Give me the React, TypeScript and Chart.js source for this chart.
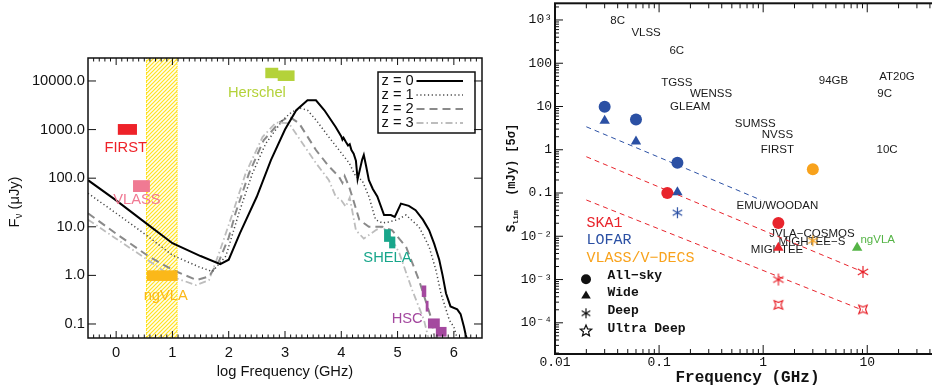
import { useEffect, useRef } from "react";
import { Chart, registerables } from "chart.js";
Chart.register(...registerables);

// ================= LEFT PANEL DATA (x = log10 frequency [GHz], y = flux density [μJy]) =================
const z0LogFreq = [-0.5, 0, 0.5, 1, 1.5, 1.85, 2.0, 2.2, 2.5, 2.75, 3.0, 3.2, 3.4, 3.55, 3.7, 3.9, 4.0, 4.02, 4.04, 4.08, 4.12, 4.15, 4.18, 4.22, 4.26, 4.29, 4.33, 4.37, 4.4, 4.44, 4.49, 4.56, 4.64, 4.76, 4.88, 4.95, 5.06, 5.2, 5.32, 5.45, 5.56, 5.65, 5.74, 5.8, 5.86, 5.94, 6.06, 6.12, 6.18, 6.21, 6.23];
const z0Flux = [91, 35, 12.6, 4.6, 2.5, 1.7, 2.1, 7.4, 42, 235, 1000, 2500, 4000, 4000, 2500, 1130, 720, 620, 680, 560, 470, 500, 380, 320, 230, 95, 150, 240, 300, 180, 91, 60, 42, 17.5, 17.5, 16, 30, 27, 22, 14, 8.5, 4.5, 2.1, 1.0, 0.43, 0.23, 0.2, 0.16, 0.087, 0.06, 0.05];

const z1LogFreq = [-0.5, 0, 0.53, 1.0, 1.47, 1.71, 1.95, 2.18, 2.42, 2.66, 2.96, 3.12, 3.28, 3.4, 3.55, 3.78, 3.96, 4.14, 4.26, 4.37, 4.49, 4.61, 4.73, 4.85, 5.0, 5.15, 5.38, 5.56, 5.68, 5.77, 5.92, 6.0, 6.06];
const z1Flux = [49, 19, 6.8, 2.6, 1.5, 1.2, 2.5, 19, 125, 520, 1580, 2300, 2750, 2500, 1580, 700, 380, 205, 107, 91, 42, 14, 12, 12.6, 14, 17.5, 10, 3.9, 1.3, 0.43, 0.12, 0.087, 0.05];

const z2LogFreq = [-0.5, 0, 0.57, 1.0, 1.43, 1.65, 1.83, 2.0, 2.12, 2.36, 2.62, 2.9, 3.07, 3.25, 3.55, 3.78, 3.96, 4.02, 4.06, 4.14, 4.2, 4.32, 4.49, 4.73, 4.9, 5.15, 5.38, 5.59, 5.66];
const z2Flux = [19, 7.2, 2.5, 1.3, 0.8, 0.95, 2.0, 6, 19, 125, 600, 1400, 1860, 1350, 380, 175, 107, 80, 110, 66, 40, 14, 10, 10, 8.5, 3.9, 0.8, 0.14, 0.05];

const z3LogFreq = [-0.5, 0, 0.53, 1.0, 1.42, 1.65, 1.83, 2.07, 2.3, 2.6, 2.84, 3.07, 3.31, 3.55, 3.78, 3.9, 4.0, 4.08, 4.15, 4.26, 4.4, 4.61, 4.73, 4.85, 5.03, 5.26, 5.47, 5.55];
const z3Flux = [14, 5.7, 2.2, 0.93, 0.63, 0.8, 2.9, 19, 125, 700, 1400, 1350, 525, 205, 91, 42, 35, 26, 40, 8.5, 5.7, 8.5, 10, 7, 2.9, 0.5, 0.12, 0.05];

const curveLabels = ["z = 0", "z = 1", "z = 2", "z = 3"];

// ngVLA frequency band (log GHz)
const bandLogFreq = [0.53, 1.09];

// survey coverage boxes: name, log-frequency range, flux range
const boxNames = ["FIRST", "VLASS", "Herschel", "Herschel", "ngVLA", "SHELA", "SHELA", "HSC", "HSC", "HSC", "HSC"];
const boxLogFreqLo = [0.03, 0.3, 2.65, 2.87, 0.545, 4.76, 4.85, 5.43, 5.5, 5.54, 5.68];
const boxLogFreqHi = [0.37, 0.6, 2.88, 3.17, 1.09, 4.88, 4.96, 5.51, 5.55, 5.75, 5.87];
const boxFluxLo = [780, 52, 11400, 10000, 0.77, 4.9, 3.6, 0.36, 0.18, 0.081, 0.055];
const boxFluxHi = [1300, 91, 18700, 16500, 1.27, 8.9, 6.3, 0.62, 0.3, 0.13, 0.087];

const surveyTextNames = ["FIRST", "VLASS", "Herschel", "ngVLA", "SHELA", "HSC"];
const surveyTextLogFreq = [0.17, 0.37, 2.5, 0.88, 4.82, 5.17];
const surveyTextFlux = [412, 35, 5750, 0.38, 2.3, 0.13];

const leftXTicks = [0, 1, 2, 3, 4, 5, 6];
const leftYTicks = [0.1, 1, 10, 100, 1000, 10000];

// ================= RIGHT PANEL DATA (x = frequency [GHz], y = S_lim [mJy]) =================
const lofarAllSkyFreq = [0.03, 0.06, 0.15];
const lofarAllSkyLim = [9.9, 5.0, 0.5];
const lofarWideFreq = [0.03, 0.06, 0.15];
const lofarWideLim = [4.7, 1.55, 0.104];
const lofarDeepFreq = [0.15];
const lofarDeepLim = [0.035];
const ska1AllSkyFreq = [0.12, 1.4];
const ska1AllSkyLim = [0.1, 0.0204];
const ska1WideFreq = [1.4];
const ska1WideLim = [0.0054];
const ska1DeepFreq = [1.4, 9.1];
const ska1DeepLim = [0.001, 0.0015];
const ska1UltraFreq = [1.4, 9.1];
const ska1UltraLim = [0.00026, 0.000204];
const vlassAllSkyFreq = [3.0];
const vlassAllSkyLim = [0.355];
const vlassDeepFreq = [3.0];
const vlassDeepLim = [0.0079];
const ngvlaWideFreq = [8.0];
const ngvlaWideLim = [0.0054];

const lofarTrendFreq = [0.02, 0.95];
const lofarTrendLim = [3.4, 0.069];
const ska1TrendFreq = [0.02, 9.1];
const ska1TrendLim = [0.69, 0.0015];
const ska1DeepTrendFreq = [0.02, 9.1];
const ska1DeepTrendLim = [0.069, 0.000195];

const catalogNames = ["8C", "VLSS", "6C", "TGSS", "WENSS", "GLEAM", "94GB", "AT20G", "9C", "SUMSS", "NVSS", "FIRST", "10C", "EMU/WOODAN", "JVLA\u2212COSMOS", "MIGHTEE\u2212S", "MIGHTEE", "ngVLA"];
const catalogFreq = [0.04, 0.075, 0.148, 0.148, 0.316, 0.199, 4.74, 19.3, 14.7, 0.838, 1.37, 1.37, 15.5, 1.37, 2.94, 2.94, 1.36, 12.6];
const catalogLim = [970, 492, 195, 35.5, 19.9, 9.7, 39.4, 48.9, 19.9, 3.94, 2.22, 1.0, 0.99, 0.0507, 0.01167, 0.00746, 0.00498, 0.00817];

const facilityNames = ["SKA1", "LOFAR", "VLASS/V\u2212DECS"];
const depthNames = ["All\u2212sky", "Wide", "Deep", "Ultra Deep"];

const rightXTicks = [0.01, 0.1, 1, 10];
const rightYTicks = [0.0001, 0.001, 0.01, 0.1, 1, 10, 100, 1000];

// ================= STYLES =================
const SANS = "'Liberation Sans', Arial, Helvetica, sans-serif";
const MONO = "'Liberation Mono', 'DejaVu Sans Mono', monospace";
const boxColor: Record<string, string> = {
  FIRST: "#ee2229",
  VLASS: "#f07a93",
  Herschel: "#b4d23a",
  ngVLA: "#fbb819",
  SHELA: "#18a68b",
  HSC: "#a4499f",
};
const BLUE = "#2b50a4";
const RED = "#e8242c";
const ORANGE = "#f8a21c";
const GREEN = "#55b446";
const catalogColor: Record<string, string> = { ngVLA: GREEN };
const facilityColor = [RED, BLUE, ORANGE];

function pts(xs: number[], ys: number[]) {
  return xs.map((x, i) => ({ x, y: ys[i] }));
}

function makeAsterisk(color: string, r: number) {
  const s = Math.ceil(2 * r + 4);
  const c = document.createElement("canvas");
  c.width = s;
  c.height = s;
  const g = c.getContext("2d")!;
  g.strokeStyle = color;
  g.lineWidth = 1.2;
  const m = s / 2;
  g.beginPath();
  for (const ang of [90, 30, 150]) {
    const t = (ang * Math.PI) / 180;
    g.moveTo(m - r * Math.cos(t), m - r * Math.sin(t));
    g.lineTo(m + r * Math.cos(t), m + r * Math.sin(t));
  }
  g.stroke();
  return c;
}

function makeStar(color: string, r: number, n: number, innerRatio: number, rot: number) {
  const s = Math.ceil(2 * r + 4);
  const c = document.createElement("canvas");
  c.width = s;
  c.height = s;
  const g = c.getContext("2d")!;
  g.strokeStyle = color;
  g.lineWidth = 1.2;
  const m = s / 2;
  g.beginPath();
  for (let i = 0; i < 2 * n; i++) {
    const rr = i % 2 === 0 ? r : r * innerRatio;
    const t = rot + (i * Math.PI) / n;
    const x = m + rr * Math.sin(t);
    const y = m - rr * Math.cos(t);
    if (i === 0) g.moveTo(x, y);
    else g.lineTo(x, y);
  }
  g.closePath();
  g.stroke();
  return c;
}

function drawFrameAndTicks(chart: any, o: any) {
  const { ctx, chartArea: a, scales } = chart;
  const sx = scales.x;
  const sy = scales.y;
  ctx.save();
  ctx.strokeStyle = "#111";
  ctx.lineWidth = 1;
  ctx.beginPath();
  const vx = (v: number, len: number) => {
    const p = sx.getPixelForValue(v);
    if (p < a.left + 0.5 || p > a.right - 0.5) return;
    ctx.moveTo(p, a.bottom);
    ctx.lineTo(p, a.bottom - len);
    ctx.moveTo(p, a.top);
    ctx.lineTo(p, a.top + len);
  };
  const hy = (v: number, len: number) => {
    const p = sy.getPixelForValue(v);
    if (p < a.top + 0.5 || p > a.bottom - 0.5) return;
    ctx.moveTo(a.left, p);
    ctx.lineTo(a.left + len, p);
    ctx.moveTo(a.right, p);
    ctx.lineTo(a.right - len, p);
  };
  o.xMajor.forEach((v: number) => vx(v, o.xMajLen));
  o.xMinor.forEach((v: number) => vx(v, o.xMinLen));
  o.yMajor.forEach((v: number) => hy(v, o.yMajLen));
  o.yMinor.forEach((v: number) => hy(v, o.yMinLen));
  ctx.stroke();
  ctx.lineWidth = o.frameWidth;
  ctx.strokeRect(a.left, a.top, a.right - a.left, a.bottom - a.top);
  ctx.restore();
}

function drawRotated(ctx: CanvasRenderingContext2D, cx: number, cy: number, parts: { text: string; font: string; dy: number }[], color: string) {
  ctx.save();
  ctx.translate(cx, cy);
  ctx.rotate(-Math.PI / 2);
  ctx.fillStyle = color;
  ctx.textBaseline = "middle";
  ctx.textAlign = "left";
  let total = 0;
  for (const p of parts) {
    ctx.font = p.font;
    total += ctx.measureText(p.text).width;
  }
  let x = -total / 2;
  for (const p of parts) {
    ctx.font = p.font;
    ctx.fillText(p.text, x, p.dy);
    x += ctx.measureText(p.text).width;
  }
  ctx.restore();
}

function logMinor(lo: number, hi: number) {
  const out: number[] = [];
  for (let e = Math.floor(Math.log10(lo)); e <= Math.ceil(Math.log10(hi)); e++) {
    for (let k = 2; k <= 9; k++) {
      const v = k * Math.pow(10, e);
      if (v > lo && v < hi) out.push(v);
    }
  }
  return out;
}

function supLabel(v: number) {
  const e = Math.round(Math.log10(v));
  const map: Record<string, string> = { "3": "10\u00B3", "2": "100", "1": "10", "0": "1", "-1": "0.1", "-2": "10\u207B\u00B2", "-3": "10\u207B\u00B3", "-4": "10\u207B\u2074" };
  return map[String(e)] ?? String(v);
}

export default function App() {
  const leftRef = useRef<HTMLCanvasElement>(null);
  const rightRef = useRef<HTMLCanvasElement>(null);

  useEffect(() => {
    const lc = leftRef.current!;
    const rc = rightRef.current!;

    // hatch pattern for the ngVLA band
    const pc = document.createElement("canvas");
    pc.width = 4;
    pc.height = 4;
    const pg = pc.getContext("2d")!;
    pg.fillStyle = "#fffdf0";
    pg.fillRect(0, 0, 4, 4);
    pg.strokeStyle = "#ffe21e";
    pg.lineWidth = 1.15;
    pg.beginPath();
    pg.moveTo(0, 4);
    pg.lineTo(4, 0);
    pg.moveTo(-1, 1);
    pg.lineTo(1, -1);
    pg.moveTo(3, 5);
    pg.lineTo(5, 3);
    pg.stroke();
    const hatch = lc.getContext("2d")!.createPattern(pc, "repeat");

    const xMinorLeft: number[] = [];
    for (let i = -5; i <= 65; i++) if (i % 10 !== 0) xMinorLeft.push(i / 10);

    const leftPlugin = {
      id: "leftDecor",
      beforeDatasetsDraw(chart: any) {
        const { ctx, chartArea: a, scales } = chart;
        const x0 = scales.x.getPixelForValue(bandLogFreq[0]);
        const x1 = scales.x.getPixelForValue(bandLogFreq[1]);
        ctx.save();
        ctx.fillStyle = hatch;
        ctx.fillRect(x0, a.top, x1 - x0, a.bottom - a.top);
        ctx.strokeStyle = "#ffe21e";
        ctx.lineWidth = 1;
        ctx.setLineDash([1, 1]);
        ctx.beginPath();
        ctx.moveTo(x0 + 0.5, a.top);
        ctx.lineTo(x0 + 0.5, a.bottom);
        ctx.moveTo(x1 - 0.5, a.top);
        ctx.lineTo(x1 - 0.5, a.bottom);
        ctx.stroke();
        ctx.restore();
      },
      afterDatasetsDraw(chart: any) {
        const { ctx, chartArea: a, scales } = chart;
        const sx = scales.x;
        const sy = scales.y;
        ctx.save();
        // survey boxes
        boxNames.forEach((n, i) => {
          const x0 = sx.getPixelForValue(boxLogFreqLo[i]);
          const x1 = sx.getPixelForValue(boxLogFreqHi[i]);
          const y0 = sy.getPixelForValue(boxFluxHi[i]);
          const y1 = sy.getPixelForValue(boxFluxLo[i]);
          ctx.fillStyle = boxColor[n];
          ctx.fillRect(x0, y0, x1 - x0, y1 - y0);
        });
        // survey names
        ctx.font = `14.7px ${SANS}`;
        ctx.textAlign = "center";
        ctx.textBaseline = "middle";
        surveyTextNames.forEach((n, i) => {
          ctx.fillStyle = boxColor[n];
          ctx.fillText(n, sx.getPixelForValue(surveyTextLogFreq[i]), sy.getPixelForValue(surveyTextFlux[i]));
        });
        // legend box
        const lx = a.right - 104;
        const ly = a.top + 14;
        ctx.fillStyle = "#fff";
        ctx.fillRect(lx, ly, 97, 61);
        ctx.strokeStyle = "#111";
        ctx.lineWidth = 1.5;
        ctx.strokeRect(lx, ly, 97, 61);
        const ds = chart.data.datasets;
        curveLabels.forEach((lab, i) => {
          const yy = ly + 9 + i * 14;
          ctx.fillStyle = "#111";
          ctx.textAlign = "left";
          ctx.font = `14.7px ${SANS}`;
          ctx.fillText(lab, lx + 3.5, yy);
          ctx.strokeStyle = ds[i].borderColor;
          ctx.lineWidth = ds[i].borderWidth;
          ctx.setLineDash(ds[i].borderDash || []);
          ctx.beginPath();
          ctx.moveTo(lx + 38.5, yy);
          ctx.lineTo(lx + 85, yy);
          ctx.stroke();
          ctx.setLineDash([]);
        });
        ctx.restore();
        drawFrameAndTicks(chart, {
          xMajor: leftXTicks,
          xMinor: xMinorLeft,
          yMajor: leftYTicks,
          yMinor: [],
          xMajLen: 7,
          xMinLen: 3.5,
          yMajLen: 8,
          yMinLen: 0,
          frameWidth: 1.5,
        });
        // axis titles
        ctx.save();
        ctx.fillStyle = "#111";
        ctx.font = `14.7px ${SANS}`;
        ctx.textAlign = "center";
        ctx.textBaseline = "middle";
        ctx.fillText("log Frequency (GHz)", (a.left + a.right) / 2, a.bottom + 34);
        ctx.restore();
        drawRotated(
          ctx,
          15,
          202,
          [
            { text: "F", font: `14.7px ${SANS}`, dy: 0 },
            { text: "\u03BD", font: `10px ${SANS}`, dy: 4 },
            { text: " (\u03BCJy)", font: `14.7px ${SANS}`, dy: 0 },
          ],
          "#111"
        );
      },
    };

    const left = new Chart(lc, {
      type: "scatter",
      data: {
        datasets: [
          { label: curveLabels[0], data: pts(z0LogFreq, z0Flux), showLine: true, borderColor: "#000", borderWidth: 2, pointRadius: 0 },
          { label: curveLabels[1], data: pts(z1LogFreq, z1Flux), showLine: true, borderColor: "#444", borderWidth: 1.5, borderDash: [1.2, 2.6], pointRadius: 0 },
          { label: curveLabels[2], data: pts(z2LogFreq, z2Flux), showLine: true, borderColor: "#8a8a8a", borderWidth: 2, borderDash: [8, 5], pointRadius: 0 },
          { label: curveLabels[3], data: pts(z3LogFreq, z3Flux), showLine: true, borderColor: "#bdbdbd", borderWidth: 1.8, borderDash: [7, 3, 1.5, 3], pointRadius: 0 },
        ] as any,
      },
      options: {
        animation: false,
        responsive: false,
        devicePixelRatio: 1,
        events: [],
        layout: { autoPadding: false, padding: { left: 0, right: 2, top: 58, bottom: 0 } },
        plugins: { legend: { display: false }, tooltip: { enabled: false } },
        scales: {
          x: {
            type: "linear",
            min: -0.5,
            max: 6.5,
            grid: { display: false, drawTicks: false },
            border: { display: false },
            afterBuildTicks: (s: any) => {
              s.ticks = leftXTicks.map((v) => ({ value: v }));
            },
            afterFit: (s: any) => {
              s.height = 50;
              s.paddingLeft = 0;
              s.paddingRight = 0;
            },
            ticks: { color: "#111", font: { family: SANS, size: 14.7 }, padding: 6, maxRotation: 0, autoSkip: false, callback: (v: any) => String(v) },
          },
          y: {
            type: "logarithmic",
            min: 0.0515,
            max: 29700,
            grid: { display: false, drawTicks: false },
            border: { display: false },
            afterBuildTicks: (s: any) => {
              s.ticks = leftYTicks.map((v) => ({ value: v }));
            },
            afterFit: (s: any) => {
              s.width = 88;
            },
            ticks: { color: "#111", font: { family: SANS, size: 14.7 }, padding: 3, autoSkip: false, callback: (v: any) => Number(v).toFixed(1) },
          },
        },
      } as any,
      plugins: [leftPlugin],
    });

    // ---------- right chart ----------
    const blueAst = makeAsterisk(BLUE, 5.5);
    const redAst = makeAsterisk(RED, 6);
    const orangeAst = makeAsterisk(ORANGE, 5.5);
    const redUltra = makeStar(RED, 6, 4, 0.42, Math.PI / 4);
    const legAst = makeAsterisk("#111", 5);
    const legStar = makeStar("#111", 6, 5, 0.45, 0);

    const rightPlugin = {
      id: "rightDecor",
      beforeDatasetsDraw(chart: any) {
        const { ctx, scales } = chart;
        ctx.save();
        ctx.font = `11.5px ${SANS}`;
        ctx.textAlign = "center";
        ctx.textBaseline = "middle";
        catalogNames.forEach((n, i) => {
          ctx.fillStyle = catalogColor[n] || "#1a1a1a";
          ctx.fillText(n, scales.x.getPixelForValue(catalogFreq[i]), scales.y.getPixelForValue(catalogLim[i]));
        });
        ctx.restore();
      },
      afterDatasetsDraw(chart: any) {
        const { ctx, chartArea: a } = chart;
        ctx.save();
        ctx.textAlign = "left";
        ctx.textBaseline = "middle";
        ctx.font = `15px ${MONO}`;
        facilityNames.forEach((n, i) => {
          ctx.fillStyle = facilityColor[i];
          ctx.fillText(n, a.left + 31.5, 222.7 + i * 17.7);
        });
        ctx.font = `bold 13px ${MONO}`;
        ctx.fillStyle = "#111";
        const ty = [275.7, 292.7, 310.7, 328.3];
        depthNames.forEach((n, i) => ctx.fillText(n, a.left + 52.5, ty[i]));
        const mx = a.left + 31;
        ctx.beginPath();
        ctx.arc(mx, 279.3, 5, 0, Math.PI * 2);
        ctx.fill();
        ctx.beginPath();
        ctx.moveTo(mx, 290.5);
        ctx.lineTo(mx + 4.8, 298.5);
        ctx.lineTo(mx - 4.8, 298.5);
        ctx.closePath();
        ctx.fill();
        ctx.drawImage(legAst, mx - legAst.width / 2, 313.3 - legAst.height / 2);
        ctx.drawImage(legStar, mx - legStar.width / 2, 331 - legStar.height / 2);
        ctx.restore();

        drawFrameAndTicks(chart, {
          xMajor: rightXTicks,
          xMinor: logMinor(0.01, 50),
          yMajor: rightYTicks,
          yMinor: logMinor(1.9e-5, 2430),
          xMajLen: 9,
          xMinLen: 5,
          yMajLen: 8,
          yMinLen: 4,
          frameWidth: 2,
        });
        ctx.save();
        ctx.fillStyle = "#111";
        ctx.font = `bold 16px ${MONO}`;
        ctx.textAlign = "center";
        ctx.textBaseline = "middle";
        ctx.fillText("Frequency (GHz)", (a.left + a.right) / 2, a.bottom + 23.7);
        ctx.restore();
        drawRotated(
          ctx,
          27.7,
          178,
          [
            { text: "S", font: `bold 12.5px ${MONO}`, dy: 0 },
            { text: "lim", font: `bold 8px ${MONO}`, dy: 4 },
            { text: "  (mJy) [5\u03C3]", font: `bold 12px ${MONO}`, dy: 0 },
          ],
          "#111"
        );
      },
    };

    const right = new Chart(rc, {
      type: "scatter",
      data: {
        datasets: [
          { data: pts(lofarTrendFreq, lofarTrendLim), showLine: true, borderColor: BLUE, borderWidth: 1, borderDash: [5, 4], pointRadius: 0 },
          { data: pts(ska1TrendFreq, ska1TrendLim), showLine: true, borderColor: RED, borderWidth: 1, borderDash: [5, 4], pointRadius: 0 },
          { data: pts(ska1DeepTrendFreq, ska1DeepTrendLim), showLine: true, borderColor: RED, borderWidth: 1, borderDash: [5, 4], pointRadius: 0 },
          { data: pts(lofarAllSkyFreq, lofarAllSkyLim), pointStyle: "circle", pointRadius: 6, backgroundColor: BLUE, borderColor: BLUE, borderWidth: 0 },
          { data: pts(lofarWideFreq, lofarWideLim), pointStyle: "triangle", pointRadius: 6, backgroundColor: BLUE, borderColor: BLUE, borderWidth: 0 },
          { data: pts(lofarDeepFreq, lofarDeepLim), pointStyle: blueAst, pointRadius: 5 },
          { data: pts(ska1AllSkyFreq, ska1AllSkyLim), pointStyle: "circle", pointRadius: 6, backgroundColor: RED, borderColor: RED, borderWidth: 0 },
          { data: pts(ska1WideFreq, ska1WideLim), pointStyle: "triangle", pointRadius: 6, backgroundColor: RED, borderColor: RED, borderWidth: 0 },
          { data: pts(ska1DeepFreq, ska1DeepLim), pointStyle: redAst, pointRadius: 5 },
          { data: pts(ska1UltraFreq, ska1UltraLim), pointStyle: redUltra, pointRadius: 5 },
          { data: pts(vlassAllSkyFreq, vlassAllSkyLim), pointStyle: "circle", pointRadius: 6, backgroundColor: ORANGE, borderColor: ORANGE, borderWidth: 0 },
          { data: pts(vlassDeepFreq, vlassDeepLim), pointStyle: orangeAst, pointRadius: 5 },
          { data: pts(ngvlaWideFreq, ngvlaWideLim), pointStyle: "triangle", pointRadius: 6, backgroundColor: GREEN, borderColor: GREEN, borderWidth: 0 },
        ] as any,
      },
      options: {
        animation: false,
        responsive: false,
        devicePixelRatio: 1,
        events: [],
        layout: { autoPadding: false, padding: { left: 0, right: 0, top: 3.3, bottom: 0 } },
        plugins: { legend: { display: false }, tooltip: { enabled: false } },
        scales: {
          x: {
            type: "logarithmic",
            min: 0.01,
            max: 50,
            grid: { display: false, drawTicks: false },
            border: { display: false },
            afterBuildTicks: (s: any) => {
              s.ticks = rightXTicks.map((v) => ({ value: v }));
            },
            afterFit: (s: any) => {
              s.height = 34;
              s.paddingLeft = 0;
              s.paddingRight = 0;
            },
            ticks: { color: "#111", font: { family: MONO, size: 13 }, padding: 1, maxRotation: 0, autoSkip: false, callback: (v: any) => String(Number(v)) },
          },
          y: {
            type: "logarithmic",
            min: 1.9e-5,
            max: 2430,
            grid: { display: false, drawTicks: false },
            border: { display: false },
            afterBuildTicks: (s: any) => {
              s.ticks = rightYTicks.map((v) => ({ value: v }));
            },
            afterFit: (s: any) => {
              s.width = 71;
              s.paddingTop = 0;
              s.paddingBottom = 0;
            },
            ticks: { color: "#111", font: { family: MONO, size: 13 }, padding: 3, autoSkip: false, callback: (v: any) => supLabel(Number(v)) },
          },
        },
      } as any,
      plugins: [rightPlugin],
    });

    return () => {
      left.destroy();
      right.destroy();
    };
  }, []);

  return (
    <div style={{ position: "fixed", left: 0, top: 0, width: 932, height: 388, overflow: "hidden", background: "#fff" }}>
      <canvas ref={leftRef} width={484} height={388} style={{ position: "absolute", left: 0, top: 0, width: 484, height: 388 }} />
      <canvas ref={rightRef} width={456} height={388} style={{ position: "absolute", left: 484, top: 0, width: 456, height: 388 }} />
    </div>
  );
}
